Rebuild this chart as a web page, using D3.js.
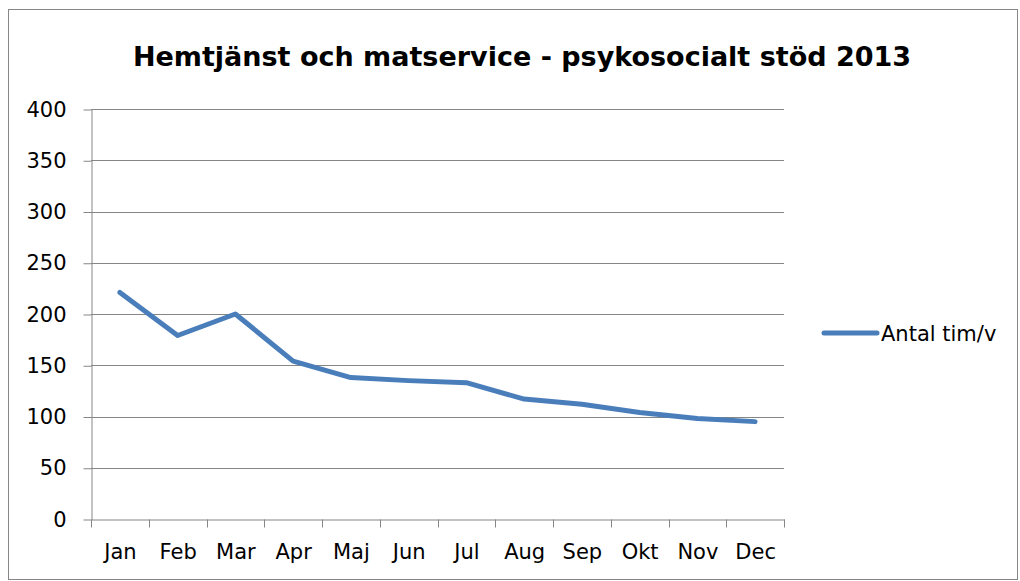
<!DOCTYPE html>
<html>
<head>
<meta charset="utf-8">
<title>Hemtjänst och matservice</title>
<script src="https://cdnjs.cloudflare.com/ajax/libs/d3/7.8.5/d3.min.js"></script>
<style>
    body { margin: 0; background: #fff; }
    svg { display: block; }
    text { font-family: "DejaVu Sans", sans-serif; fill: #000; }
</style>
</head>
<body>
<svg id="chart" width="1020" height="581"></svg>
<script>
    // data
    var months = ['Jan', 'Feb', 'Mar', 'Apr', 'Maj', 'Jun', 'Jul', 'Aug', 'Sep', 'Okt', 'Nov', 'Dec'];
    var hours = [221, 179, 200, 154, 138, 135, 133, 117, 112, 104, 98, 95];
    var yTicks = [0, 50, 100, 150, 200, 250, 300, 350, 400];
    var seriesName = 'Antal tim/v';
    var title = 'Hemtjänst och matservice - psykosocialt stöd 2013';

    var svg = d3.select('#chart');
    var plotLeft = 91, plotRight = 784, plotTop = 109, plotBottom = 519;
    var gridColor = '#868686';
    var lineColor = '#4a7ebb';

    // outer frame
    svg.append('rect')
        .attr('x', 8.5).attr('y', 9.5)
        .attr('width', 1009).attr('height', 570)
        .attr('fill', 'none').attr('stroke', gridColor);

    svg.append('text')
        .text(title)
        .attr('x', 522).attr('y', 66)
        .attr('text-anchor', 'middle')
        .attr('font-size', 27)
        .attr('font-weight', 'bold');

    var x = d3.scaleBand().domain(months).range([plotLeft, plotRight]);
    var y = d3.scaleLinear().domain([0, 400]).range([plotBottom, plotTop]);

    // horizontal gridlines
    svg.append('g').selectAll('line')
        .data(yTicks.filter(function (d) { return d > 0; }))
        .join('line')
        .attr('x1', plotLeft).attr('x2', plotRight)
        .attr('y1', function (d) { return Math.round(y(d)) + 0.5; })
        .attr('y2', function (d) { return Math.round(y(d)) + 0.5; })
        .attr('stroke', gridColor);

    var yAxis = svg.append('g')
        .attr('transform', 'translate(' + (plotLeft + 0.5) + ',0.5)')
        .call(d3.axisLeft(y).tickValues(yTicks).tickSize(8).tickSizeOuter(0).tickPadding(17));
    yAxis.selectAll('text').attr('font-size', 21).attr('font-family', '"DejaVu Sans", sans-serif');

    var xAxis = svg.append('g')
        .attr('transform', 'translate(0.5,' + (plotBottom + 0.5) + ')')
        .call(d3.axisBottom(x).tickSize(0).tickSizeOuter(0).tickPadding(25));
    xAxis.selectAll('text').attr('font-size', 21).attr('font-family', '"DejaVu Sans", sans-serif');

    // category boundary ticks
    var bounds = months.map(function (m) { return x(m); }).concat([plotRight]);
    xAxis.selectAll('line.bound')
        .data(bounds)
        .join('line')
        .attr('class', 'bound')
        .attr('x1', function (d) { return Math.round(d); })
        .attr('x2', function (d) { return Math.round(d); })
        .attr('y1', 0).attr('y2', 8)
        .attr('stroke', gridColor);

    svg.selectAll('.domain').attr('stroke', gridColor);
    svg.selectAll('.tick line').attr('stroke', gridColor);

    var line = d3.line()
        .x(function (d, i) { return x(months[i]) + x.bandwidth() / 2; })
        .y(function (d) { return y(d); });

    svg.append('path')
        .datum(hours)
        .attr('d', line)
        .attr('fill', 'none')
        .attr('stroke', lineColor)
        .attr('stroke-width', 5)
        .attr('stroke-linejoin', 'round')
        .attr('stroke-linecap', 'round');

    // legend
    svg.append('line')
        .attr('x1', 824).attr('x2', 877)
        .attr('y1', 333).attr('y2', 333)
        .attr('stroke', lineColor)
        .attr('stroke-width', 5)
        .attr('stroke-linecap', 'round');
    svg.append('text')
        .text(seriesName)
        .attr('x', 881).attr('y', 341)
        .attr('font-size', 21);
</script>
</body>
</html>
